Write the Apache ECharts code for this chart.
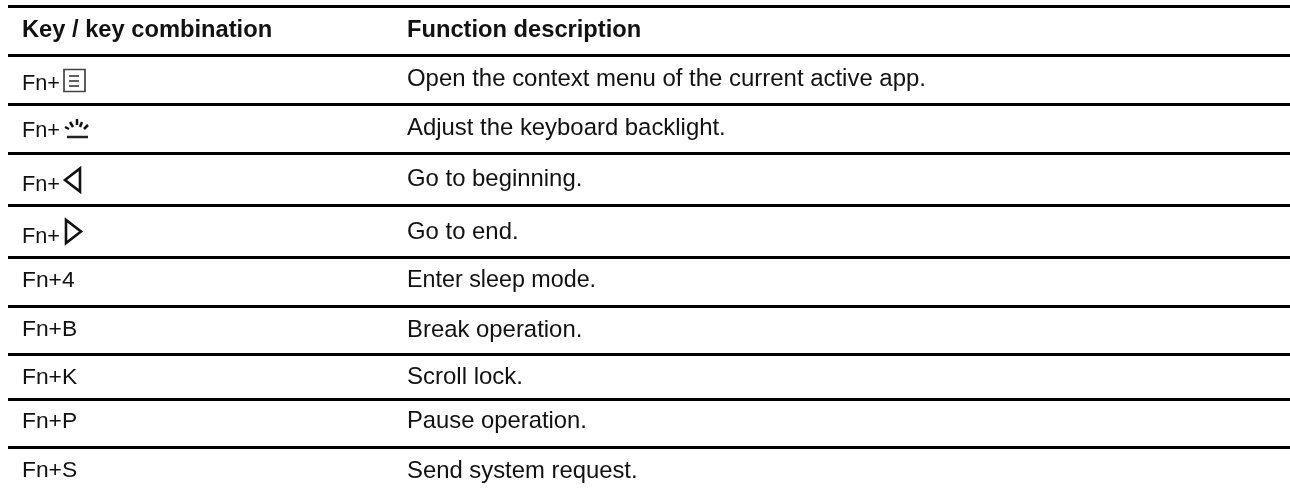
<!DOCTYPE html>
<html>
<head>
<meta charset="utf-8">
<style>html,body{margin:0;padding:0;background:#fff}#c{width:1290px;height:492px}</style>
<script src="https://cdn.jsdelivr.net/npm/echarts@6/dist/echarts.min.js"></script>
</head>
<body>
<div id="c"></div>
<script>
var headers = ['Key / key combination', 'Function description'];
var keyLabels = ['Fn+', 'Fn+', 'Fn+', 'Fn+', 'Fn+4', 'Fn+B', 'Fn+K', 'Fn+P', 'Fn+S'];
var keyIcons = ['menu', 'backlight', 'left', 'right', '', '', '', '', ''];
var descriptions = [
  'Open the context menu of the current active app.',
  'Adjust the keyboard backlight.',
  'Go to beginning.',
  'Go to end.',
  'Enter sleep mode.',
  'Break operation.',
  'Scroll lock.',
  'Pause operation.',
  'Send system request.'
];
var ruleRows = [6.5, 55.5, 104.5, 153.5, 205.5, 257.5, 306.5, 354.5, 399.5, 447.5];
var keyRowY = [84.5, 131.5, 185.5, 237, 281, 330, 378, 421.5, 471];
var descRowY = [79, 128, 179, 232, 280.5, 330, 377.5, 421.5, 471];
var descSizes = [23.95, 23.9, 23.9, 23.9, 23.3, 23.9, 24, 23.8, 23.85];
var headerY = 30;
var keyColumnX = 22;
var descColumnX = 407;

var font = '"Liberation Sans", Arial, sans-serif';
var ink = '#111';

function iconShapes(kind, x, y) {
  var st = {fill: 'none', stroke: ink, lineWidth: 2.6, lineJoin: 'miter'};
  if (kind === 'menu') {
    var s = {fill: 'none', stroke: '#444', lineWidth: 1.7};
    return [
      {type: 'rect', shape: {x: x + 1, y: y - 15, width: 21, height: 22}, style: s},
      {type: 'line', shape: {x1: x + 6, y1: y - 8.5, x2: x + 16, y2: y - 8.5}, style: s},
      {type: 'line', shape: {x1: x + 6, y1: y - 3.5, x2: x + 16, y2: y - 3.5}, style: s},
      {type: 'line', shape: {x1: x + 6, y1: y + 1.5, x2: x + 16, y2: y + 1.5}, style: s}
    ];
  }
  if (kind === 'backlight') {
    var r = {fill: 'none', stroke: '#111', lineWidth: 2.5};
    var b = {fill: 'none', stroke: '#222', lineWidth: 2.5};
    var rays = [[2, -4.5, 6, -2.5], [7, -9.5, 10, -4.5], [14, -12.5, 14, -6.5], [19, -9.5, 17, -4.5], [25, -6.5, 21, -2.5]];
    return rays.map(function (p) {
      return {type: 'line', shape: {x1: x + p[0], y1: y + p[1], x2: x + p[2], y2: y + p[3]}, style: r};
    }).concat([{type: 'line', shape: {x1: x + 4, y1: y + 5.5, x2: x + 25, y2: y + 5.5}, style: b}]);
  }
  if (kind === 'left') {
    return [{type: 'polygon', shape: {points: [[x + 2, y - 5.5], [x + 17, y - 17], [x + 17, y + 6]]}, style: st}];
  }
  if (kind === 'right') {
    return [{type: 'polygon', shape: {points: [[x + 3, y - 17], [x + 3, y + 6], [x + 18, y - 5.5]]}, style: st}];
  }
  return [];
}

function textEl(str, x, y, size, bold) {
  return {
    type: 'text',
    x: x, y: y,
    style: {
      text: str, fill: ink,
      font: (bold ? 'bold ' : '') + size + 'px ' + font,
      textAlign: 'left', verticalAlign: 'middle'
    }
  };
}

var rowData = keyLabels.map(function (k, i) { return [i]; });

var option = {
  animation: false,
  backgroundColor: '#fff',
  grid: {left: 0, right: 0, top: 0, bottom: 0},
  xAxis: {type: 'value', min: 0, max: 1290, show: false},
  yAxis: {type: 'value', min: 0, max: 492, inverse: true, show: false},
  series: [
    {
      type: 'lines',
      coordinateSystem: 'cartesian2d',
      silent: true,
      lineStyle: {color: '#000', width: 3, opacity: 1},
      data: ruleRows.map(function (y) {
        return {coords: [[8, y], [1290, y]]};
      })
    },
    {
      type: 'custom',
      silent: true,
      clip: false,
      data: [[0]],
      renderItem: function (params, api) {
        var a = api.coord([keyColumnX, headerY]);
        var b = api.coord([descColumnX, headerY]);
        return {type: 'group', children: [textEl(headers[0], a[0], a[1], 23.7, true), textEl(headers[1], b[0], b[1], 23.7, true)]};
      }
    },
    {
      type: 'custom',
      silent: true,
      clip: false,
      data: rowData,
      renderItem: function (params, api) {
        var i = api.value(0);
        var k = api.coord([keyColumnX, keyRowY[i]]);
        var d = api.coord([descColumnX, descRowY[i]]);
        var kids = [
          textEl(keyLabels[i], k[0], k[1], keyIcons[i] ? 21.7 : 22.8, false),
          textEl(descriptions[i], d[0], d[1], descSizes[i], false)
        ];
        return {type: 'group', children: kids.concat(iconShapes(keyIcons[i], k[0] + 41, k[1]))};
      }
    }
  ]
};
var chart = echarts.init(document.getElementById('c'), null, {renderer: 'canvas'});
chart.setOption(option);
</script>
</body>
</html>
